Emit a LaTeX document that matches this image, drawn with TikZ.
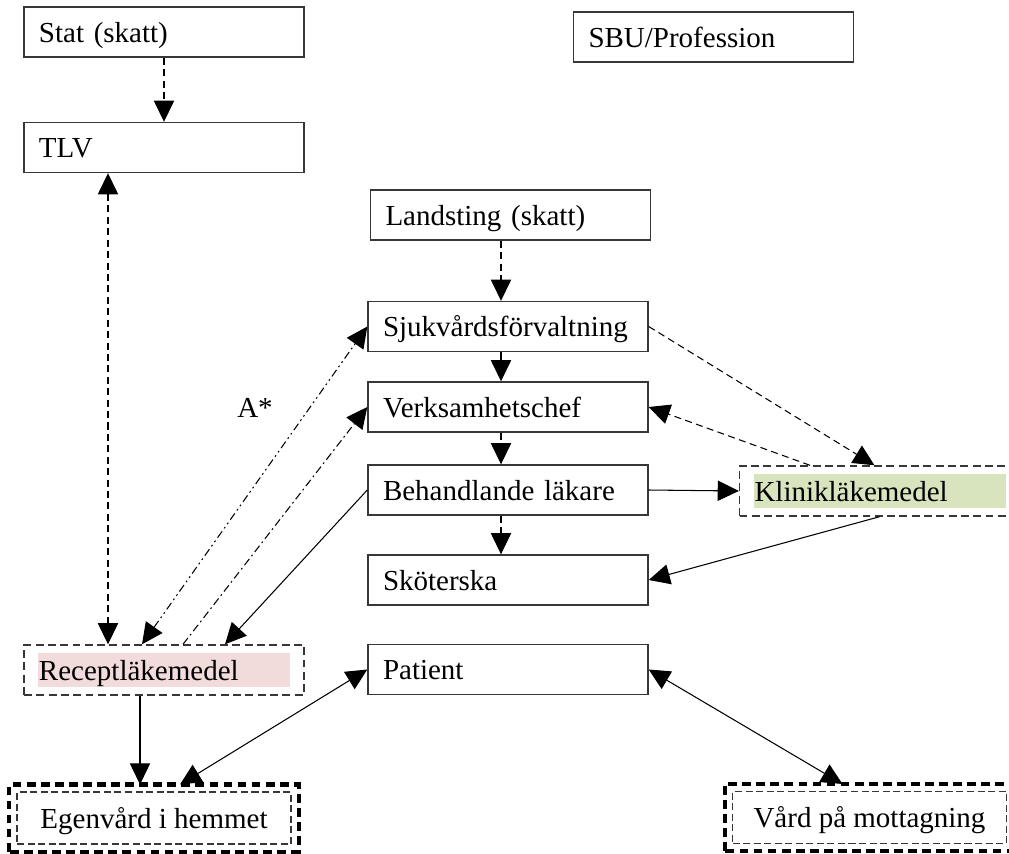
\documentclass[tikz,border=0pt]{standalone}
\usepackage{fontspec}
\setmainfont{Liberation Serif}
\usetikzlibrary{arrows.meta}
\definecolor{boxline}{RGB}{55,55,55}
\definecolor{receptfill}{RGB}{242,219,219}
\definecolor{klinikfill}{RGB}{215,228,189}
\newcommand{\boxstrut}{\rule[-5pt]{0pt}{21.8pt}}

\begin{document}
\begin{tikzpicture}[>={Triangle[length=12pt,width=11.5pt]},
    font=\fontsize{16.5}{19}\selectfont,
    box/.style={draw=boxline, line width=0.8pt, text width=5.0cm, inner xsep=0.3cm,
                minimum height=1cm, align=left, execute at begin node=\boxstrut},
    dashbox/.style={box, dash pattern=on 4.5pt off 2.5pt,
                path picture={\fill[#1] ([shift={(0.28cm,0.17cm)}]path picture bounding box.south west)
                      rectangle ([shift={(-0.28cm,-0.17cm)}]path picture bounding box.north east);}},
    dblbox/.style={draw=boxline, line width=0.6pt, dash pattern=on 4pt off 2pt,
                minimum width=5.48cm, minimum height=1.04cm, execute at begin node=\boxstrut},
    heavydash/.style={draw=black, line width=2.3pt, dash pattern=on 5pt off 3pt},
    dasharrow/.style={line width=0.6pt, dash pattern=on 4pt off 2.5pt},
    dashdot/.style={line width=0.6pt, dash pattern=on 4.5pt off 2pt on 1pt off 2pt},
    dashdotdot/.style={line width=0.6pt, dash pattern=on 4.5pt off 2pt on 1pt off 2pt on 1pt off 2pt},
    plain/.style={line width=0.6pt}
]
    \useasboundingbox (0,0) rectangle (20.18,-17.06);

    % ==================== staten (vänster kolumn) ====================
    \node[box] (stat) at (3.28,-0.64) {Stat (skatt)};
    \node[box] (tlv)  at (3.28,-2.95) {TLV};
    \node[box] (sbu)  at (14.27,-0.74) {SBU/Profession};

    % ==================== landstinget (mittkolumn) ====================
    \node[box] (landsting) at (10.21,-4.30) {Landsting (skatt)};
    \node[box] (sjuk)  at (10.16,-6.53)  {Sjukvårdsförvaltning};
    \node[box] (verk)  at (10.16,-8.14)  {Verksamhetschef};
    \node[box] (beh)   at (10.16,-9.80)  {Behandlande läkare};
    \node[box] (skot)  at (10.16,-11.60) {Sköterska};
    \node[box] (pat)   at (10.16,-13.39) {Patient};

    % läkemedel
    \node[dashbox=receptfill] (recept) at (3.28,-13.40) {Receptläkemedel};
    \node[dashbox=klinikfill] (klinik) at (17.59,-9.82) {Klinikläkemedel};

    % vårdformer (dubbla ramar)
    \node[dblbox] (ege)  at (3.08,-16.36)  {Egenvård i hemmet};
    \node[dblbox] (vard) at (17.39,-16.35) {Vård på mottagning};
    \draw[heavydash] ([shift={(-0.14cm,-0.14cm)}]ege.south west) rectangle ([shift={(0.14cm,0.14cm)}]ege.north east);
    \draw[heavydash] ([shift={(-0.14cm,-0.14cm)}]vard.south west) rectangle ([shift={(0.14cm,0.14cm)}]vard.north east);

    % ==================== pilar ====================
    \draw[dasharrow, ->] (stat) -- (tlv);
    \draw[dasharrow, <->] ([xshift=-1.12cm]tlv.south) -- ([xshift=-1.12cm]recept.north);

    \draw[dasharrow, ->] ([xshift=-0.19cm]landsting.south) -- ([xshift=-0.19cm]landsting.south |- sjuk.north);
    \draw[plain, ->] ([xshift=-0.14cm]sjuk.south) -- ([xshift=-0.14cm]sjuk.south |- verk.north);
    \draw[dasharrow, ->] ([xshift=-0.14cm]verk.south) -- ([xshift=-0.14cm]verk.south |- beh.north);
    \draw[dasharrow, ->] ([xshift=-0.14cm]beh.south) -- ([xshift=-0.14cm]beh.south |- skot.north);

    \draw[dasharrow, ->] (sjuk.east) -- ([xshift=-0.1cm]klinik.north);
    \draw[dasharrow, ->] ([xshift=-1.39cm]klinik.north) -- (verk.east);
    \draw[plain, ->] (beh.east) -- (klinik.west);
    \draw[plain, ->] (klinik.south) -- (skot.east);

    \draw[dashdotdot, <->] ([xshift=-0.44cm]recept.north) -- (sjuk.west);
    \draw[dashdot, ->] ([xshift=0.38cm]recept.north) -- (verk.west);
    \draw[plain, ->] (beh.west) -- ([xshift=1.22cm]recept.north);
    \node (astar) at (5.10,-8.16) {A*};

    \draw[plain, ->] ([xshift=-0.48cm]recept.south) -- ([xshift=-0.28cm,yshift=0.14cm]ege.north);
    \draw[plain, <->] (pat.west) -- ([xshift=0.52cm,yshift=0.14cm]ege.north);
    \draw[plain, <->] (pat.east) -- ([xshift=-0.54cm,yshift=0.14cm]vard.north);

\end{tikzpicture}
\end{document}
